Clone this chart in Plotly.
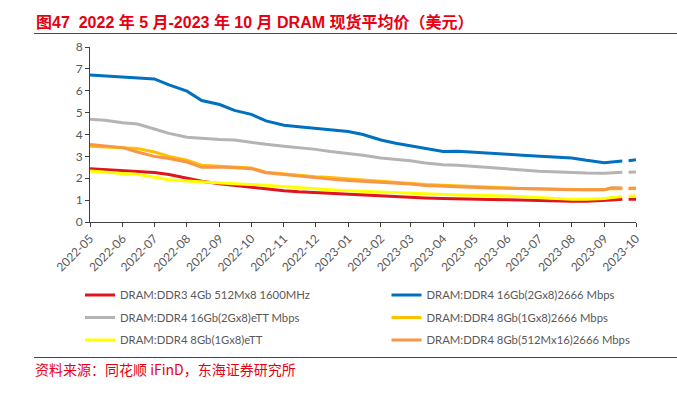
import plotly.graph_objects as go

dates = ["2022-05-01","2022-05-15","2022-06-01","2022-06-15","2022-07-01","2022-07-15",
         "2022-08-01","2022-08-15","2022-09-01","2022-09-15","2022-10-01","2022-10-15",
         "2022-11-01","2022-11-15","2022-12-01","2022-12-15","2023-01-01","2023-01-15",
         "2023-02-01","2023-02-15","2023-03-01","2023-03-15","2023-04-01","2023-04-15",
         "2023-05-01","2023-05-15","2023-06-01","2023-06-15","2023-07-01","2023-07-15",
         "2023-08-01","2023-08-15","2023-09-01","2023-09-08","2023-09-18","2023-09-21",
         "2023-09-24","2023-10-01"]

ddr3_4gb = [2.44,2.40,2.36,2.32,2.26,2.17,2.01,1.86,1.75,1.67,1.60,1.50,1.43,1.38,1.34,1.30,
            1.26,1.22,1.19,1.16,1.13,1.10,1.07,1.05,1.04,1.03,1.02,1.00,0.98,0.96,0.95,0.95,
            0.97,1.01,1.04,None,1.04,1.04]
ddr4_16gb_2666 = [6.72,6.68,6.62,6.60,6.54,6.27,5.98,5.55,5.37,5.10,4.92,4.62,4.42,4.35,4.27,4.20,
                  4.14,4.00,3.75,3.60,3.48,3.38,3.22,3.24,3.20,3.15,3.10,3.05,3.00,2.98,2.93,2.82,
                  2.71,2.74,2.79,None,2.80,2.85]
ddr4_16gb_ett = [4.70,4.65,4.54,4.48,4.25,4.05,3.87,3.82,3.77,3.75,3.63,3.55,3.46,3.40,3.32,3.22,
                 3.13,3.05,2.93,2.88,2.80,2.70,2.62,2.60,2.55,2.50,2.45,2.38,2.32,2.29,2.26,2.24,
                 2.23,2.25,2.27,None,2.28,2.29]
ddr4_8gb_2666 = [3.46,3.43,3.40,3.36,3.20,3.00,2.82,2.60,2.55,2.52,2.47,2.28,2.20,2.13,2.07,2.04,
                 1.96,1.92,1.86,1.80,1.75,1.71,1.68,1.65,1.62,1.58,1.55,1.53,1.52,1.50,1.49,1.48,
                 1.47,1.53,1.52,None,1.52,1.53]
ddr4_8gb_ett = [2.33,2.27,2.22,2.18,2.03,1.93,1.88,1.83,1.78,1.75,1.72,1.67,1.63,1.57,1.52,1.47,
                1.43,1.40,1.37,1.34,1.31,1.28,1.25,1.24,1.22,1.21,1.19,1.15,1.11,1.07,1.04,1.04,
                1.07,1.12,1.16,None,1.18,1.20]
ddr4_8gb_512 = [3.54,3.47,3.40,3.20,3.00,2.90,2.74,2.50,2.52,2.48,2.44,2.25,2.16,2.10,2.01,1.96,
                1.90,1.86,1.83,1.79,1.74,1.67,1.63,1.61,1.59,1.56,1.54,1.52,1.51,1.50,1.48,1.48,
                1.48,1.57,1.55,None,1.54,1.55]

series = [
    ("DRAM:DDR3 4Gb 512Mx8 1600MHz", ddr3_4gb, "#E0141E", "legend"),
    ("DRAM:DDR4 16Gb(2Gx8)2666 Mbps", ddr4_16gb_2666, "#0070C0", "legend2"),
    ("DRAM:DDR4 16Gb(2Gx8)eTT Mbps", ddr4_16gb_ett, "#B4B4B4", "legend"),
    ("DRAM:DDR4 8Gb(1Gx8)2666 Mbps", ddr4_8gb_2666, "#FFC000", "legend2"),
    ("DRAM:DDR4 8Gb(1Gx8)eTT", ddr4_8gb_ett, "#FFFF00", "legend"),
    ("DRAM:DDR4 8Gb(512Mx16)2666 Mbps", ddr4_8gb_512, "#F79646", "legend2"),
]

fig = go.Figure()
for i, (name, vals, color, lg) in enumerate(series):
    fig.add_trace(go.Scatter(x=dates, y=vals, name=name, mode="lines",
                             line=dict(color=color, width=3), connectgaps=False,
                             legend=lg, legendgroup=str(i)))

W, H = 677, 395
L, T, PW, PH = 90, 47, 546, 175


def px(x):
    return (x - L) / PW


def py(y):
    return 1 - (y - T) / PH


font_axis = dict(family="Lato, Liberation Sans, sans-serif", size=12, color="#595959")
leg_common = dict(font=dict(family="Lato, Liberation Sans, sans-serif", size=11.3, color="#595959"),
                  bgcolor="rgba(0,0,0,0)", orientation="v", tracegroupgap=3.5,
                  xanchor="left", yanchor="top", itemwidth=30)

fig.update_layout(
    width=W, height=H,
    margin=dict(l=L, r=W - L - PW, t=T, b=H - T - PH, autoexpand=False),
    plot_bgcolor="white", paper_bgcolor="white",
    showlegend=True,
    legend=dict(x=px(80), y=py(280.5), **leg_common),
    legend2=dict(x=px(386.5), y=py(280.5), **leg_common),
    xaxis=dict(type="date", range=["2022-05-01", "2023-10-01"], tick0="2022-05-01", dtick="M1",
               tickformat="%Y-%m", tickangle=-45, ticks="outside", ticklen=4,
               tickcolor="#404040", showline=True, linecolor="#404040", linewidth=1,
               showgrid=False, zeroline=False, tickfont=font_axis, automargin=False),
    yaxis=dict(range=[0, 8], dtick=1, ticks="outside", ticklen=4, tickcolor="#404040",
               showline=True, linecolor="#404040", linewidth=1, showgrid=False,
               zeroline=False, tickfont=font_axis, automargin=False),
)

red = "#E60012"
fig.add_annotation(text="<b>图47  2022 年 5 月-2023 年 10 月 DRAM 现货平均价（美元）</b>",
                   xref="paper", yref="paper", x=px(34), y=py(21.5),
                   xanchor="left", yanchor="middle", showarrow=False,
                   font=dict(family="Liberation Sans, Noto Sans CJK SC", size=16, color=red))
fig.add_annotation(text="资料来源：同花顺 iFinD，东海证券研究所",
                   xref="paper", yref="paper", x=px(33), y=py(368.5),
                   xanchor="left", yanchor="middle", showarrow=False,
                   font=dict(family="Noto Sans CJK SC", size=14, color=red))
fig.add_shape(type="line", xref="paper", yref="paper", x0=px(34), x1=px(677),
              y0=py(33.5), y1=py(33.5), line=dict(color=red, width=1))
fig.add_shape(type="line", xref="paper", yref="paper", x0=px(34), x1=px(677),
              y0=py(357.5), y1=py(357.5), line=dict(color=red, width=1))

fig.write_html("out.html", config={"displayModeBar": False},
               post_script="document.body.style.margin='0px';")
